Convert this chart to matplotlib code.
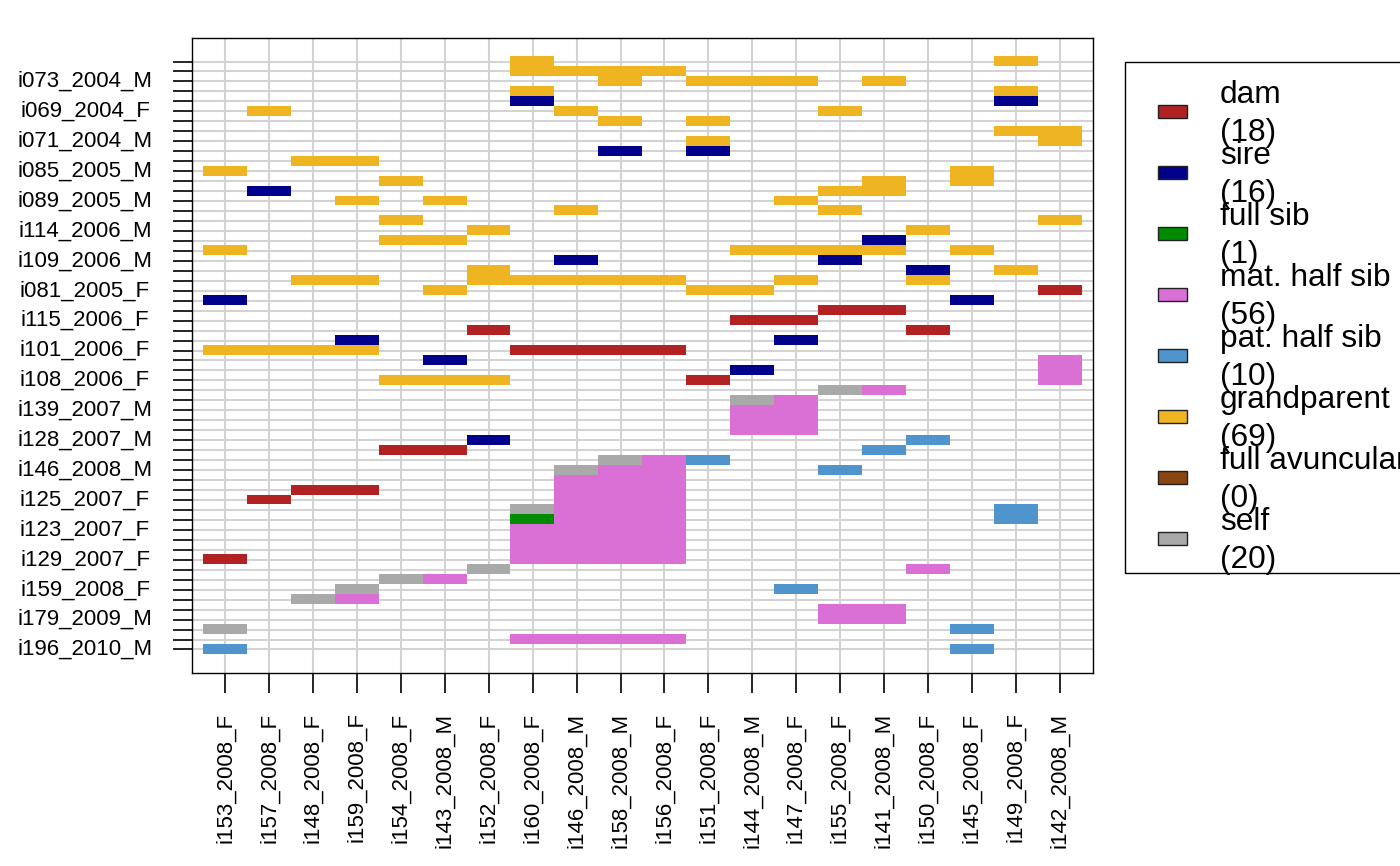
import matplotlib
matplotlib.use("Agg")
import matplotlib.pyplot as plt
import numpy as np
from matplotlib.colors import ListedColormap
from matplotlib.patches import Rectangle
from matplotlib.transforms import blended_transform_factory

W, H = 1400, 866
plt.rcParams["font.family"] = ["Liberation Sans", "DejaVu Sans"]

# relationship categories, legend colours and counts
categories = ["dam", "sire", "full sib", "mat. half sib", "pat. half sib",
              "grandparent", "full avuncular", "self"]
codes = ["D", "S", "F", "M", "P", "G", "A", "X"]
counts = [18, 16, 1, 56, 10, 69, 0, 20]
colors = ["#B22222", "#00008B", "#008B00", "#DA70D6", "#4F94CD",
          "#EEB422", "#8B4513", "#A9A9A9"]

# columns (individuals along x)
col_labels = ["i153_2008_F", "i157_2008_F", "i148_2008_F", "i159_2008_F",
              "i154_2008_F", "i143_2008_M", "i152_2008_F", "i160_2008_F",
              "i146_2008_M", "i158_2008_M", "i156_2008_F", "i151_2008_F",
              "i144_2008_M", "i147_2008_F", "i155_2008_F", "i141_2008_M",
              "i150_2008_F", "i145_2008_F", "i149_2008_F", "i142_2008_M"]

# labelled rows (every third row, starting at row 2)
row_labels = ["i073_2004_M", "i069_2004_F", "i071_2004_M", "i085_2005_M",
              "i089_2005_M", "i114_2006_M", "i109_2006_M", "i081_2005_F",
              "i115_2006_F", "i101_2006_F", "i108_2006_F", "i139_2007_M",
              "i128_2007_M", "i146_2008_M", "i125_2007_F", "i123_2007_F",
              "i129_2007_F", "i159_2008_F", "i179_2009_M", "i196_2010_M"]

# relationship matrix, top row first; '.' = no relationship
rel_rows = [
    ".......G..........G.",
    ".......GGGG.........",
    ".........G.GGG.G....",
    ".......G..........G.",
    ".......S..........S.",
    ".G......G.....G.....",
    ".........G.G........",
    "..................GG",
    "...........G.......G",
    ".........S.S........",
    "..GG................",
    "G................G..",
    "....G..........G.G..",
    ".S............GG....",
    "...G.G.......G......",
    "........G.....G.....",
    "....G..............G",
    "......G.........G...",
    "....GG.........S....",
    "G...........GGGG.G..",
    "........S.....S.....",
    "......G.........S.G.",
    "..GG..GGGGG..G..G...",
    ".....G.....GG......D",
    "S................S..",
    "..............DD....",
    "............DD......",
    "......D.........D...",
    "...S.........S......",
    "GGGG...DDDD.........",
    ".....S.............M",
    "............S......M",
    "....GGG....D.......M",
    "..............XM....",
    "............XM......",
    "............MM......",
    "............MM......",
    "............MM......",
    "......S.........P...",
    "....DD.........P....",
    ".........XMP........",
    "........XMM...P.....",
    "........MMM.........",
    "..DD....MMM.........",
    ".D......MMM.........",
    ".......XMMM.......P.",
    ".......FMMM.......P.",
    ".......MMMM.........",
    ".......MMMM.........",
    ".......MMMM.........",
    "D......MMMM.........",
    "......X.........M...",
    "....XM..............",
    "...X.........P......",
    "..XM................",
    "..............MM....",
    "..............MM....",
    "X................P..",
    ".......MMMM.........",
    "P................P..",
]

n_rows, n_cols = len(rel_rows), len(col_labels)
mat = np.full((n_rows, n_cols), np.nan)
for i, r in enumerate(rel_rows):
    for j, ch in enumerate(r):
        if ch in codes:
            mat[i, j] = codes.index(ch)
mat = np.ma.masked_invalid(mat)

fig = plt.figure(figsize=(W / 100, H / 100), dpi=100)
ax = fig.add_axes([192 / W, 1 - 673 / H, 901 / W, 635 / H])

# grid under the cells
ax.vlines(np.arange(n_cols), -3, n_rows + 3, color="#D3D3D3", lw=1.5, zorder=0.5)
ax.hlines(np.arange(n_rows), -2, n_cols + 2, color="#D3D3D3", lw=1.5, zorder=0.5)

ax.imshow(mat, cmap=ListedColormap(colors), vmin=-0.5, vmax=len(codes) - 0.5,
          aspect="auto", interpolation="nearest", zorder=1,
          extent=(-0.5, n_cols - 0.5, n_rows - 0.5, -0.5))

ax.set_xlim(-0.76, n_cols - 1 + 0.76)
ax.set_ylim(n_rows - 1 + 2.36, -2.36)

for s in ax.spines.values():
    s.set_linewidth(1.0)

ax.set_xticks(np.arange(n_cols))
ax.set_xticklabels(col_labels, rotation=90, fontsize=16, va="top", ha="center")
ax.tick_params(axis="x", length=14.4, width=1.2, pad=14)
ax.set_yticks(np.arange(n_rows))
ax.set_yticklabels([])
ax.tick_params(axis="y", length=13.7, width=1.2)

tr = blended_transform_factory(fig.transFigure, ax.transData)
for k, lab in enumerate(row_labels):
    ax.text(85 / W, 2 + 3 * k, lab, transform=tr, ha="center", va="center",
            fontsize=16, clip_on=False)

# legend box, drawn by hand in pixel positions
def fx(x):
    return x / W

def fy(y):
    return 1 - y / H

fig.add_artist(Rectangle((fx(1125), fy(573)), fx(1420) - fx(1125), fy(62) - fy(573),
                         transform=fig.transFigure, fill=False, ec="black", lw=1.0))
for k, (cat, n, c) in enumerate(zip(categories, counts, colors)):
    yc = 111 + 61 * k
    fig.add_artist(Rectangle((fx(1158), fy(yc + 6.5)), fx(29), 13 / H,
                             transform=fig.transFigure, fc=c, ec="#222222", lw=1.0))
    fig.text(fx(1220), fy(yc - 8), cat, fontsize=22.8, ha="left", va="baseline")
    fig.text(fx(1220), fy(yc + 30), f"({n})", fontsize=22.8, ha="left", va="baseline")

fig.savefig("out.png", dpi=100)
